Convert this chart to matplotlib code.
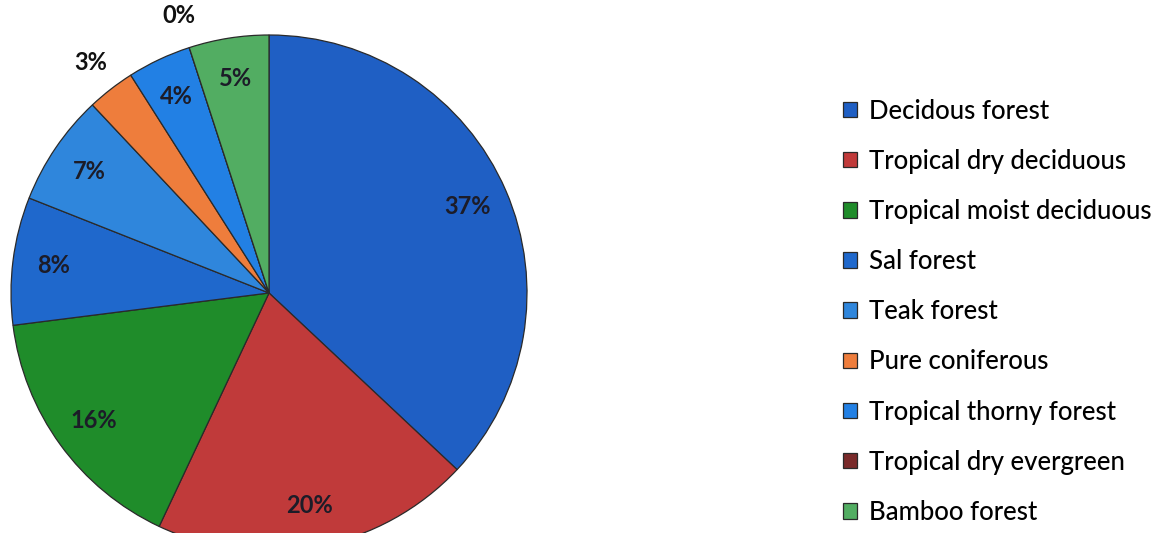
import numpy as np
import matplotlib
matplotlib.use('Agg')
import matplotlib.pyplot as plt

plt.rcParams['font.family'] = ['Lato', 'DejaVu Sans']

# forest types and their share (%)
forest_types = ["Decidous forest", "Tropical dry deciduous", "Tropical moist deciduous",
                "Sal forest", "Teak forest", "Pure coniferous", "Tropical thorny forest",
                "Tropical dry evergreen", "Bamboo forest"]
shares = [37, 20, 16, 8, 7, 3, 4, 0, 5]
colors = ['#1f5fc4', '#c03a3a', '#1f8c2a', '#1f68cc', '#2f86dc', '#ee7d3c', '#2280e4',
          '#7a2a2a', '#52ad62']
outside = [5, 7]  # small slices whose labels sit outside the pie

fig = plt.figure(figsize=(11.62, 5.33), dpi=100)
W, H = 1162, 533
cx, cy, r = 269, 293, 258
ax = fig.add_axes([(cx - r) / W, (H - cy - r) / H, 2 * r / W, 2 * r / H])

wedges, texts, pcts = ax.pie(shares, colors=colors, startangle=90, counterclock=False,
                             autopct='%d%%', pctdistance=0.84,
                             wedgeprops=dict(edgecolor='#2a2a2a', linewidth=0.9),
                             textprops=dict(fontsize=17, color='#1c1c28', fontweight='bold'))
ax.set_xlim(-1, 1)
ax.set_ylim(-1, 1)
ax.set_aspect('equal')

# push labels of the thin slices out past the rim
for i in outside:
    w = wedges[i]
    ang = np.deg2rad((w.theta1 + w.theta2) / 2)
    pcts[i].set_position((1.13 * np.cos(ang), 1.13 * np.sin(ang)))
    pcts[i].set_color('#111111')

fig.legend(wedges, forest_types, loc='center left', bbox_to_anchor=(830 / W, 0.415),
           frameon=False, fontsize=18.5, labelspacing=0.98, handlelength=0.55,
           handleheight=0.55, handletextpad=0.45, borderpad=0,
           prop=dict(size=18.5, weight='medium'))

fig.savefig('out.png', dpi=100)
